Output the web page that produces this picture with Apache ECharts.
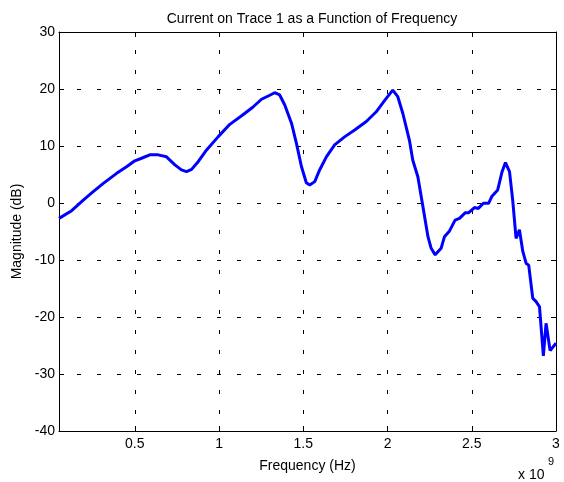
<!DOCTYPE html>
<html>
<head>
<meta charset="utf-8">
<script src="https://cdn.jsdelivr.net/npm/echarts@6/dist/echarts.min.js"></script>
<style>html,body{margin:0;padding:0;background:#fff}#c{width:564px;height:482px}</style>
</head>
<body>
<div id="c"></div>
<script>
// Frequency in units of 1e9 Hz
var freq = [0.05,0.125,0.194,0.253,0.313,0.392,0.451,0.5,0.54,0.589,0.639,0.688,0.738,0.777,0.807,0.837,0.876,0.926,0.994,1.064,1.138,1.2,1.252,1.301,1.33,1.36,1.39,1.43,1.459,1.489,1.518,1.538,1.568,1.597,1.637,1.686,1.745,1.805,1.874,1.933,1.982,2.031,2.061,2.091,2.13,2.15,2.18,2.21,2.24,2.259,2.283,2.318,2.338,2.368,2.401,2.427,2.462,2.482,2.516,2.539,2.569,2.6,2.62,2.654,2.68,2.7,2.724,2.743,2.763,2.783,2.803,2.823,2.838,2.862,2.882,2.902,2.925,2.941,2.965,3.0];
var magnitude = [-2.7,-1.35,0.5,2.0,3.45,5.2,6.35,7.4,7.85,8.45,8.45,8.1,6.7,5.8,5.5,5.9,7.25,9.3,11.6,13.8,15.4,16.8,18.2,18.9,19.35,18.95,17.2,14.0,10.5,6.4,3.55,3.15,3.75,5.8,8.1,10.2,11.6,12.8,14.3,16.0,17.95,19.8,18.65,15.7,11.0,7.5,4.6,-0.6,-5.9,-7.95,-9.1,-7.95,-5.9,-4.9,-3.0,-2.7,-1.7,-1.7,-0.8,-0.95,-0.05,-0.05,1.2,2.3,5.5,7.1,5.5,0.5,-6.2,-4.7,-8.5,-10.6,-10.9,-16.7,-17.3,-18.2,-26.8,-21.1,-25.9,-24.6];
var xTicks = [0.5,1,1.5,2,2.5,3];
var yTicks = [-40,-30,-20,-10,0,10,20,30];

var seriesData = freq.map(function(f,i){return [f, magnitude[i]];});
var FONT = '"Liberation Sans", Arial, sans-serif';
var gridLine = {show:true, lineStyle:{color:'#000', width:1, type:[4,16], dashOffset:-18}};
var chart = echarts.init(document.getElementById('c'), null, {renderer:'canvas'});
chart.setOption({
  animation:false,
  backgroundColor:'#fff',
  title:{text:'Current on Trace 1 as a Function of Frequency', left:307, top:7, textAlign:'center',
    textStyle:{fontFamily:FONT, fontSize:14, fontWeight:'normal', color:'#000'}},
  grid:{left:59, right:8, top:32, bottom:51, containLabel:false, show:false},
  xAxis:[{
    type:'value', min:0.05, max:3, position:'bottom',
    name:'Frequency (Hz)', nameLocation:'middle', nameGap:28,
    nameTextStyle:{fontFamily:FONT, fontSize:14, color:'#000'},
    axisLine:{show:true, onZero:false, lineStyle:{color:'#000', width:1}},
    axisTick:{show:true, inside:true, length:5, customValues:xTicks, lineStyle:{color:'#000'}},
    axisLabel:{show:true, customValues:xTicks, fontFamily:FONT, fontSize:14, color:'#000', margin:6,
      formatter:function(v){return String(v);}},
    splitLine:gridLine
  },{
    type:'value', min:0.05, max:3, position:'top',
    axisLine:{show:true, onZero:false, lineStyle:{color:'#000', width:1}},
    axisTick:{show:true, inside:true, length:5, customValues:xTicks, lineStyle:{color:'#000'}},
    axisLabel:{show:false}, splitLine:{show:false}
  }],
  yAxis:[{
    type:'value', min:-40, max:30, interval:10, position:'left',
    name:'Magnitude (dB)', nameLocation:'middle', nameGap:33, nameRotate:90,
    nameTextStyle:{fontFamily:FONT, fontSize:14, color:'#000'},
    axisLine:{show:true, onZero:false, lineStyle:{color:'#000', width:1}},
    axisTick:{show:true, inside:true, length:5, lineStyle:{color:'#000'}},
    axisLabel:{fontFamily:FONT, fontSize:14, color:'#000', margin:4},
    splitLine:gridLine
  },{
    type:'value', min:-40, max:30, interval:10, position:'right',
    axisLine:{show:true, onZero:false, lineStyle:{color:'#000', width:1}},
    axisTick:{show:true, inside:true, length:5, lineStyle:{color:'#000'}},
    axisLabel:{show:false}, splitLine:{show:false}
  }],
  graphic:[{
    type:'text', left:518, top:468,
    style:{text:'x 10', fontFamily:FONT, fontSize:14, fill:'#000'}
  },{
    type:'text', left:548, top:456,
    style:{text:'9', fontFamily:FONT, fontSize:11, fill:'#000'}
  }],
  series:[{
    type:'line', data:seriesData, xAxisIndex:0, yAxisIndex:0,
    showSymbol:false, smooth:false, clip:true,
    lineStyle:{color:'#0000ff', width:3}
  }]
});
</script>
</body>
</html>
